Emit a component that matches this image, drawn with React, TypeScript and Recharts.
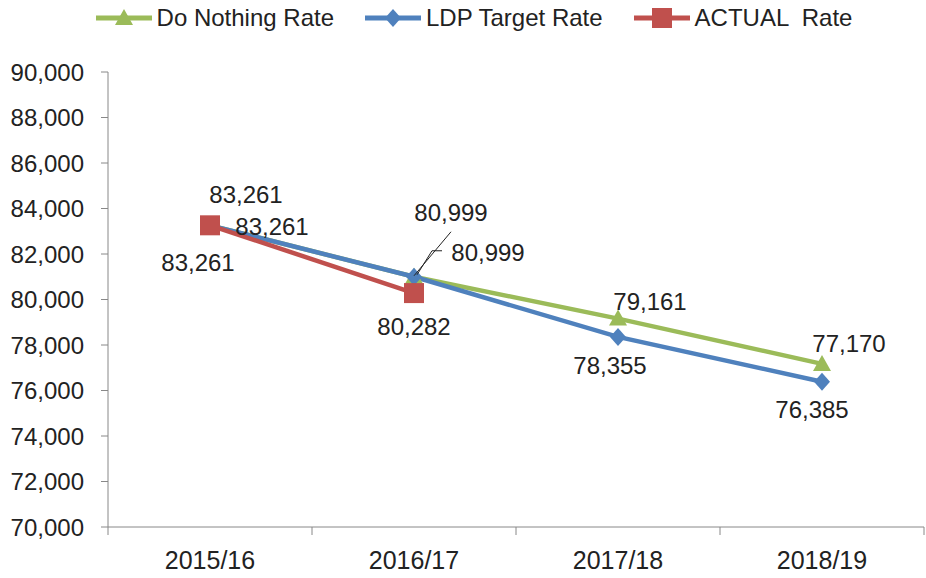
import React from 'react';
import { LineChart, Line, XAxis, YAxis, Legend, LabelList } from 'recharts';

const categories = ['2015/16', '2016/17', '2017/18', '2018/19'];
const doNothingRate = [83261, 80999, 79161, 77170];
const ldpTargetRate = [83261, 80999, 78355, 76385];
const actualRate: (number | null)[] = [83261, 80282, null, null];
const yTicks = [70000, 72000, 74000, 76000, 78000, 80000, 82000, 84000, 86000, 88000, 90000];

const GREEN = '#9BBB59';
const BLUE = '#4F81BD';
const RED = '#C0504D';
const FONT = "'Liberation Sans', Arial, sans-serif";

const data = categories.map((name, i) => ({
  x: i + 0.5,
  name,
  doNothing: doNothingRate[i],
  ldp: ldpTargetRate[i],
  actual: actualRate[i],
}));

// label offsets from each point, like the hand-placed excel labels
const greenOffsets = [[36, -31], [37, -64], [32, -17], [27, -20]];
const blueOffsets = [[62, 1], [74, -24], [-8, 29], [-10, 28]];
const redOffsets = [[-12, 37], [0, 33]];

const fmt = (v: number) => v.toLocaleString('en-US');

const Triangle = (props: any) => {
  const { cx, cy, value } = props;
  if (value == null || cy == null) return <g key={props.index} />;
  return (
    <polygon
      key={props.index}
      points={`${cx},${cy - 9} ${cx + 9},${cy + 7} ${cx - 9},${cy + 7}`}
      fill={GREEN}
    />
  );
};

const Diamond = (props: any) => {
  const { cx, cy, value } = props;
  if (value == null || cy == null) return <g key={props.index} />;
  return (
    <polygon
      key={props.index}
      points={`${cx},${cy - 9} ${cx + 8},${cy} ${cx},${cy + 9} ${cx - 8},${cy}`}
      fill={BLUE}
    />
  );
};

const Square = (props: any) => {
  const { cx, cy, value } = props;
  if (value == null || cy == null) return <g key={props.index} />;
  return <rect key={props.index} x={cx - 10} y={cy - 10} width={20} height={20} fill={RED} />;
};

const makeLabel = (offsets: number[][], leaders?: Record<number, number[][]>) => (props: any) => {
  const { x, y, value, index } = props;
  if (value == null || !offsets[index]) return null;
  const [dx, dy] = offsets[index];
  const leader = leaders && leaders[index];
  return (
    <g>
      {leader && (
        <polyline
          points={leader.map(([lx, ly]) => `${x + lx},${y + ly}`).join(' ')}
          fill="none"
          stroke="#222"
          strokeWidth={1}
        />
      )}
      <text
        x={x + dx}
        y={y + dy}
        textAnchor="middle"
        dominantBaseline="central"
        fontSize={24}
        fontFamily={FONT}
        fill="#222"
      >
        {fmt(value)}
      </text>
    </g>
  );
};

const legendItems = [
  { name: 'Do Nothing Rate', color: GREEN, shape: 'triangle' },
  { name: 'LDP Target Rate', color: BLUE, shape: 'diamond' },
  { name: 'ACTUAL  Rate', color: RED, shape: 'square' },
];

const LegendContent = () => (
  <div
    style={{
      display: 'flex',
      justifyContent: 'center',
      gap: 31,
      height: 26,
      lineHeight: '26px',
      fontFamily: FONT,
      fontSize: 24,
      color: '#222',
    }}
  >
    {legendItems.map((it) => (
      <div key={it.name} style={{ display: 'flex', alignItems: 'center' }}>
        <svg width={56} height={24}>
          <line x1={0} y1={12} x2={56} y2={12} stroke={it.color} strokeWidth={5} />
          {it.shape === 'triangle' && <polygon points="28,3 37,19 19,19" fill={it.color} />}
          {it.shape === 'diamond' && <polygon points="28,3 36,12 28,21 20,12" fill={it.color} />}
          {it.shape === 'square' && <rect x={18} y={2} width={20} height={20} fill={it.color} />}
        </svg>
        <span style={{ marginLeft: 5, whiteSpace: 'pre' }}>{it.name}</span>
      </div>
    ))}
  </div>
);

export default function App() {
  return (
    <div style={{ position: 'absolute', left: 0, top: 0, background: '#fff' }}>
      <LineChart width={926} height={578} data={data} margin={{ top: 46, right: 2, bottom: 0, left: 0 }}>
        <Legend
          layout="vertical"
          align="center"
          verticalAlign="top"
          content={<LegendContent />}
          wrapperStyle={{ position: 'absolute', top: 5, left: 11, width: 926 }}
        />
        <YAxis
          domain={[70000, 90000]}
          ticks={yTicks}
          tickFormatter={fmt}
          width={108}
          tickSize={7}
          tickMargin={17}
          axisLine={{ stroke: '#888' }}
          tickLine={{ stroke: '#888' }}
          tick={{ fill: '#222', fontSize: 24, fontFamily: FONT }}
          interval={0}
        />
        <XAxis
          xAxisId="b"
          dataKey="x"
          type="number"
          domain={[0, 4]}
          ticks={[0, 1, 2, 3, 4]}
          tickFormatter={() => ''}
          tickSize={8}
          height={10}
          axisLine={{ stroke: '#888' }}
          tickLine={{ stroke: '#888' }}
          interval={0}
        />
        <XAxis
          xAxisId="l"
          dataKey="x"
          type="number"
          domain={[0, 4]}
          ticks={[0.5, 1.5, 2.5, 3.5]}
          tickFormatter={(v: number) => categories[Math.floor(v)]}
          axisLine={false}
          tickLine={false}
          tickSize={0}
          tickMargin={14}
          height={41}
          tick={{ fill: '#222', fontSize: 25, fontFamily: FONT }}
          interval={0}
        />
        <Line
          xAxisId="b"
          dataKey="doNothing"
          stroke={GREEN}
          strokeWidth={4.5}
          dot={<Triangle />}
          activeDot={false}
          isAnimationActive={false}
        >
          <LabelList dataKey="doNothing" content={makeLabel(greenOffsets, { 1: [[37, -45], [0, -1]] })} />
        </Line>
        <Line
          xAxisId="b"
          dataKey="ldp"
          stroke={BLUE}
          strokeWidth={4.5}
          dot={<Diamond />}
          activeDot={false}
          isAnimationActive={false}
        >
          <LabelList dataKey="ldp" content={makeLabel(blueOffsets, { 1: [[28, -26], [18, -26], [3, -2]] })} />
        </Line>
        <Line
          xAxisId="b"
          dataKey="actual"
          stroke={RED}
          strokeWidth={4.5}
          dot={<Square />}
          activeDot={false}
          isAnimationActive={false}
        >
          <LabelList dataKey="actual" content={makeLabel(redOffsets)} />
        </Line>
      </LineChart>
    </div>
  );
}
